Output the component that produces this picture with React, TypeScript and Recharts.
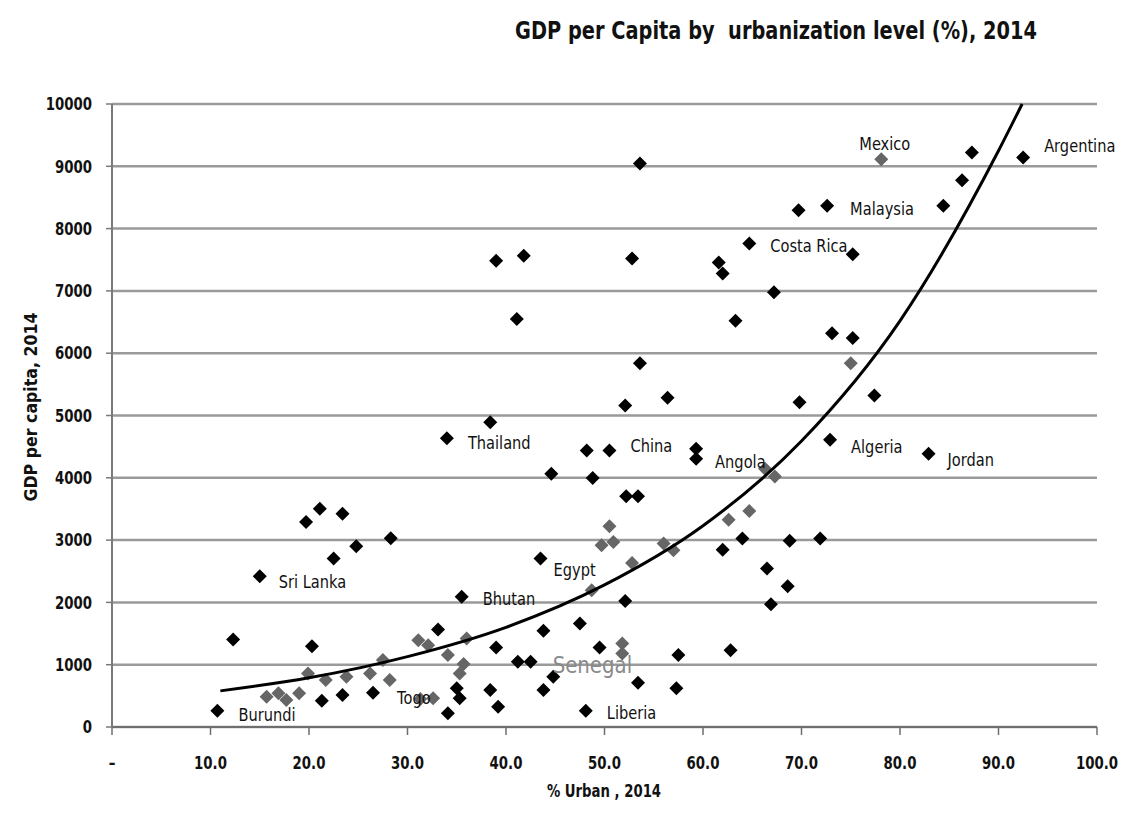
import React from "react";
import { ScatterChart, Scatter, XAxis, YAxis, CartesianGrid } from "recharts";

// x = % urban, y = GDP per capita (2014)
const darkUrban = [12.3, 19.7, 21.1, 23.4, 24.8, 22.5, 28.3, 20.3, 21.3, 23.4, 33.1, 34.1, 35.0, 35.3, 38.4, 39.0, 41.8, 41.1, 39.0, 38.4, 39.2, 41.2, 43.8, 43.8, 44.6, 44.8, 47.5, 48.2, 48.8, 49.5, 52.1, 52.2, 53.4, 52.1, 52.8, 53.6, 53.6, 53.4, 56.4, 57.3, 57.5, 59.3, 61.6, 62.0, 62.0, 62.8, 63.3, 64.0, 66.5, 66.9, 67.2, 68.6, 68.8, 69.7, 69.8, 71.9, 73.1, 75.2, 75.2, 77.4, 84.4, 86.3, 87.3];
const darkGdp = [1405, 3290, 3505, 3424, 2900, 2703, 3030, 1298, 420, 513, 1565, 220, 620, 460, 4893, 7484, 7564, 6550, 1277, 593, 325, 1047, 1543, 593, 4064, 806, 1661, 4439, 3995, 1277, 2024, 3702, 3702, 5160, 7521, 9043, 5838, 710, 5283, 620, 1154, 4466, 7457, 7280, 2847, 1230, 6522, 3024, 2543, 1971, 6977, 2260, 2990, 8296, 5213, 3024, 6319, 6245, 7590, 5320, 8365, 8777, 9220];

const greyUrban = [15.7, 16.9, 17.7, 19.0, 19.9, 21.7, 23.8, 26.2, 27.5, 28.2, 31.1, 32.1, 31.3, 32.6, 34.1, 35.7, 35.3, 36.0, 48.7, 49.7, 50.9, 50.5, 51.8, 51.8, 52.8, 56.0, 57.0, 62.6, 64.7, 66.3, 67.3, 75.0];
const greyGdp = [486, 540, 433, 540, 860, 753, 806, 860, 1074, 753, 1394, 1314, 450, 460, 1154, 1010, 860, 1421, 2196, 2917, 2970, 3221, 1341, 1181, 2633, 2944, 2837, 3325, 3466, 4146, 4022, 5838];

const countryNames = ["Burundi", "Sri Lanka", "Togo", "Bhutan", "Thailand", "Senegal", "Egypt", "Liberia", "China", "Angola", "Costa Rica", "Malaysia", "Algeria", "Mexico", "Jordan", "Argentina"];
const countryUrban = [10.7, 15.0, 26.5, 35.5, 34.0, 42.5, 43.5, 48.1, 50.5, 59.3, 64.7, 72.6, 72.9, 78.1, 82.9, 92.5];
const countryGdp = [260, 2420, 550, 2089, 4636, 1047, 2703, 261, 4439, 4306, 7760, 8365, 4610, 9113, 4386, 9140];

// exponential trendline, read at a few points along the curve
const trendUrban = [11, 20, 30, 40, 50, 60, 70, 80, 90, 92.4];
const trendGdp = [580, 790, 1130, 1600, 2280, 3230, 4590, 6520, 9250, 10000];

const xTicks = [0, 10, 20, 30, 40, 50, 60, 70, 80, 90, 100];
const yTicks = [0, 1000, 2000, 3000, 4000, 5000, 6000, 7000, 8000, 9000, 10000];

const darkData = darkUrban.map((x, i) => ({ x, y: darkGdp[i] }));
const greyData = greyUrban.map((x, i) => ({ x, y: greyGdp[i] }));
const countryData = countryNames.map((name, i) => ({ name, x: countryUrban[i], y: countryGdp[i] }));
const trendData = trendUrban.map((x, i) => ({ x, y: trendGdp[i] }));

const FONT = "'DejaVu Sans', sans-serif";

// where each country name sits relative to its marker
const labelPlace: Record<string, { dx: number; dy: number; size?: number; fill?: string }> = {
  Burundi: { dx: 21, dy: 4 },
  "Sri Lanka": { dx: 19, dy: 6 },
  Togo: { dx: 24, dy: 5 },
  Bhutan: { dx: 21, dy: 2 },
  Thailand: { dx: 21, dy: 5 },
  Senegal: { dx: 22, dy: 3, size: 23, fill: "#8a8a8a" },
  Egypt: { dx: 13, dy: 11 },
  Liberia: { dx: 21, dy: 2 },
  China: { dx: 21, dy: -4 },
  Angola: { dx: 19, dy: 3 },
  "Costa Rica": { dx: 21, dy: 3 },
  Malaysia: { dx: 23, dy: 3 },
  Algeria: { dx: 21, dy: 7 },
  Mexico: { dx: -22, dy: -15 },
  Jordan: { dx: 19, dy: 6 },
  Argentina: { dx: 21, dy: -11 },
};
const greyCountries = ["Mexico"];

const diamondPts = (cx: number, cy: number, r = 7) =>
  `${cx},${cy - r} ${cx + r},${cy} ${cx},${cy + r} ${cx - r},${cy}`;

const diamond = (fill: string) => (props: any) => {
  const { cx, cy } = props;
  if (cx == null || cy == null) return <g />;
  return <polygon points={diamondPts(cx, cy)} fill={fill} />;
};

// narrow text: DejaVu squeezed horizontally to look like the original's condensed face
const Narrow = ({ x, y, size, sx, anchor = "start", bold = false, fill = "#111", rotate = 0, children }: any) => (
  <g transform={`translate(${x},${y}) rotate(${rotate})`}>
    <text
      transform={`scale(${sx},1)`}
      textAnchor={anchor}
      dominantBaseline="central"
      fontFamily={FONT}
      fontWeight={bold ? "bold" : "normal"}
      fontSize={size}
      fill={fill}
      style={{ whiteSpace: "pre" }}
    >
      {children}
    </text>
  </g>
);

const countryShape = (props: any) => {
  const { cx, cy, payload } = props;
  if (cx == null || cy == null) return <g />;
  const name = payload.name;
  const p = labelPlace[name] || { dx: 18, dy: 0 };
  return (
    <g>
      <polygon points={diamondPts(cx, cy)} fill={greyCountries.includes(name) ? "#666" : "#000"} />
      <Narrow x={cx + p.dx} y={cy + p.dy} size={p.size || 17} sx={0.86} fill={p.fill || "#111"}>
        {name}
      </Narrow>
    </g>
  );
};

const XTick = (props: any) => {
  const { x, y, payload } = props;
  const v = payload.value;
  return (
    <Narrow x={x} y={y} size={18} sx={0.74} anchor="middle" bold>
      {v === 0 ? "–" : v.toFixed(1)}
    </Narrow>
  );
};

const YTick = (props: any) => {
  const { x, y, payload } = props;
  return (
    <Narrow x={x} y={y} size={18} sx={0.74} anchor="end" bold>
      {payload.value}
    </Narrow>
  );
};

const App = () => {
  return (
    <div style={{ position: "absolute", left: 0, top: 0, width: 1140, height: 815, background: "#fff" }}>
      <ScatterChart width={1140} height={815} margin={{ top: 104, right: 43, left: 0, bottom: 0 }}>
        <CartesianGrid vertical={false} stroke="#9a9a9a" strokeWidth={2.5} />
        <XAxis
          type="number"
          dataKey="x"
          domain={[0, 100]}
          ticks={xTicks}
          interval={0}
          height={88}
          tickSize={8}
          tickMargin={28}
          tick={<XTick />}
          axisLine={{ stroke: "#6e6e6e", strokeWidth: 2 }}
          tickLine={{ stroke: "#6e6e6e", strokeWidth: 1.5 }}
        />
        <YAxis
          type="number"
          dataKey="y"
          domain={[0, 10000]}
          ticks={yTicks}
          interval={0}
          width={112}
          tickSize={6}
          tickMargin={14}
          tick={<YTick />}
          axisLine={{ stroke: "#7a7a7a", strokeWidth: 2 }}
          tickLine={{ stroke: "#7a7a7a", strokeWidth: 1.5 }}
        />
        <Scatter data={greyData} shape={diamond("#666")} isAnimationActive={false} />
        <Scatter data={darkData} shape={diamond("#000")} isAnimationActive={false} />
        <Scatter
          data={trendData}
          line={{ stroke: "#000", strokeWidth: 3 }}
          lineJointType="monotoneX"
          shape={() => <g />}
          isAnimationActive={false}
        />
        <Scatter data={countryData} shape={countryShape} isAnimationActive={false} />
      </ScatterChart>
      <svg
        width={1140}
        height={815}
        style={{ position: "absolute", left: 0, top: 0, pointerEvents: "none" }}
      >
        <Narrow x={776} y={30} size={25} sx={0.775} anchor="middle" bold>
          GDP per Capita by  urbanization level (%), 2014
        </Narrow>
        <Narrow x={604} y={791} size={17} sx={0.78} anchor="middle" bold>
          % Urban , 2014
        </Narrow>
        <Narrow x={31} y={407} size={17} sx={0.93} anchor="middle" bold rotate={-90}>
          GDP per capita, 2014
        </Narrow>
      </svg>
    </div>
  );
};

export default App;
